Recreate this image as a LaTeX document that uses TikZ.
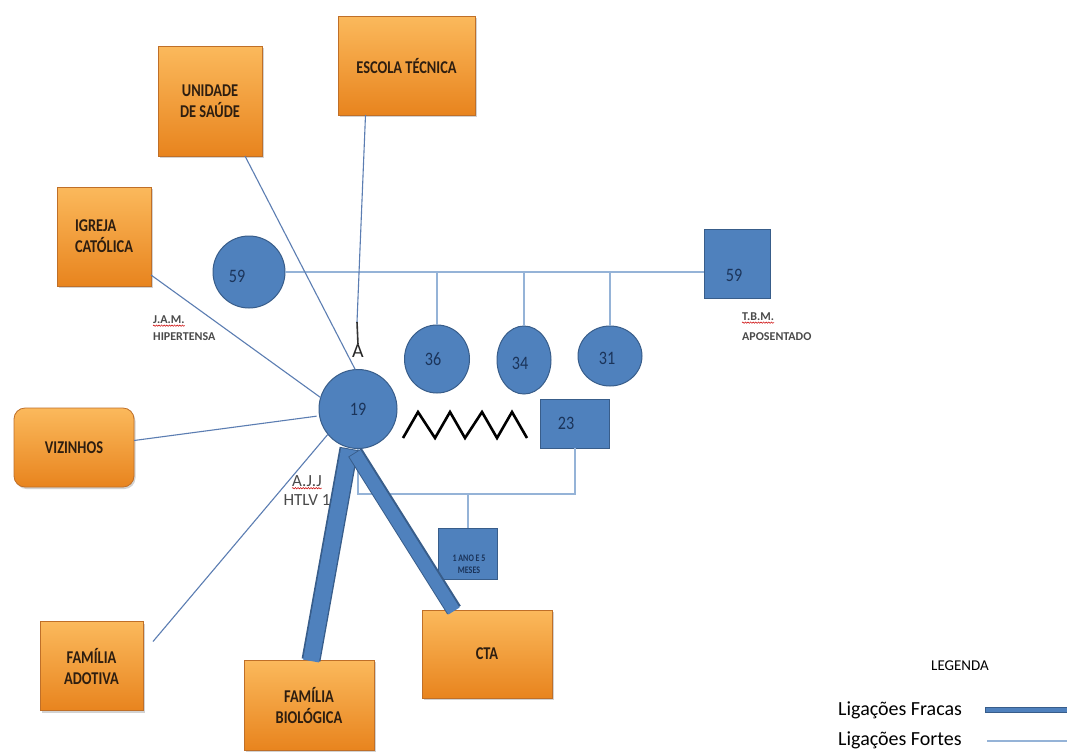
\documentclass[tikz,border=0pt]{standalone}
\usepackage{fontspec}
\setmainfont{Carlito}
\newfontfamily\condfont[FakeStretch=0.8]{Carlito}
\newfontfamily\numfont[FakeStretch=0.85]{Carlito}
\usetikzlibrary{shapes.geometric,shadows,decorations.pathmorphing}

\definecolor{nodeblue}{HTML}{4F81BD}
\definecolor{edgeblue}{HTML}{385D8A}
\definecolor{linkblue}{HTML}{5B7DB2}
\definecolor{paleblue}{HTML}{95B3D7}
\definecolor{orangetop}{HTML}{FBB95C}
\definecolor{orangebot}{HTML}{E8841E}
\definecolor{orangeedge}{HTML}{BF6F28}
\definecolor{inktext}{HTML}{2E1E10}
\definecolor{navytext}{HTML}{1B345A}
\definecolor{labelgrey}{HTML}{4A4A4A}

\begin{document}
\begin{tikzpicture}[
  x=1pt, y=-1pt,
  place/.style={rectangle, draw=orangeedge, line width=0.8pt,
    top color=orangetop, bottom color=orangebot,
    drop shadow={shadow xshift=1.5pt, shadow yshift=-2pt, opacity=0.35},
    font=\condfont\bfseries\fontsize{18}{21}\selectfont, text=inktext,
    align=center, inner sep=0pt, outer sep=0pt},
  person/.style={ellipse, fill=nodeblue, draw=edgeblue, line width=1pt,
    inner sep=0pt, outer sep=0pt},
  box/.style={rectangle, fill=nodeblue, draw=edgeblue, line width=1pt,
    inner sep=0pt, outer sep=0pt},
  num/.style={font=\numfont\fontsize{19}{21}\selectfont, text=navytext, inner sep=0pt},
  weak/.style={draw=linkblue, line width=1.1pt},
  kin/.style={draw=paleblue, line width=1.8pt},
  strongedge/.style={draw=edgeblue, line width=#1, line cap=butt},
  strongfill/.style={draw=nodeblue, line width=#1, line cap=butt},
  note/.style={font=\fontsize{12}{14}\selectfont\bfseries, text=labelgrey, inner sep=0pt, anchor=west},
  squiggle/.style={draw=red!80!black, line width=0.5pt, decorate,
    decoration={snake, amplitude=0.7pt, segment length=2.6pt}},
  zigzag/.style={draw=black, line width=2.6pt, line join=miter}
]
\useasboundingbox[fill=white] (0,0) rectangle (1067,753);

% community resources
\node[place, minimum width=137pt, minimum height=99pt] (escola) at (406.5,65.5) {ESCOLA TÉCNICA};
\node[place, minimum width=104pt, minimum height=110pt] (unidade) at (210,101) {UNIDADE\\DE SAÚDE};
\node[place, minimum width=94pt, minimum height=99pt, align=left] (igreja) at (104,236.5) {IGREJA\\CATÓLICA};
\node[place, minimum width=120pt, minimum height=79pt, rounded corners=11pt] (vizinhos) at (74,447.5) {VIZINHOS};
\node[place, minimum width=103pt, minimum height=89pt] (adotiva) at (91.5,666) {FAMÍLIA\\ADOTIVA};
\node[place, minimum width=130pt, minimum height=90pt] (biologica) at (309,705) {FAMÍLIA\\BIOLÓGICA};
\node[place, minimum width=130pt, minimum height=88pt] (cta) at (487,654) {CTA};

% family members
\node[person, minimum width=72pt, minimum height=72pt] (m59) at (249,272) {};
\node[num, xshift=-12pt, yshift=-4pt] (m59n) at (m59) {59};
\node[box, minimum width=66pt, minimum height=69pt] (f59) at (737,263.5) {};
\node[num, xshift=-3pt, yshift=-12pt] (f59n) at (f59) {59};
\node[person, minimum width=65pt, minimum height=68pt] (c36) at (437,359) {};
\node[num, xshift=-4pt] (c36n) at (c36) {36};
\node[person, minimum width=54pt, minimum height=68pt] (c34) at (524,360) {};
\node[num, xshift=-4pt, yshift=-3pt] (c34n) at (c34) {34};
\node[person, minimum width=64pt, minimum height=60pt] (c31) at (610,356) {};
\node[num, xshift=-3pt, yshift=-2pt] (c31n) at (c31) {31};
\node[box, minimum width=69pt, minimum height=49pt] (s23) at (575,423.5) {};
\node[num, xshift=-9pt] (s23n) at (s23) {23};
\node[box, minimum width=59pt, minimum height=51pt] (baby) at (468,553.5) {};
\node[font=\condfont\bfseries\fontsize{10}{12}\selectfont, text=navytext, align=center, inner sep=0pt] (babyn) at (469,564) {1 ANO E 5\\MESES};
\node[person, minimum width=78pt, minimum height=79pt] (c19) at (358,409) {};
\node[num] (c19n) at (c19) {19};

% parents' union and children
\draw[kin] (m59.east) -- (m59.east -| f59.west);
\draw[kin, line width=1.4pt] (c36.north |- m59.east) -- (c36.north);
\draw[kin, line width=1.4pt] (c34.north |- m59.east) -- (c34.north);
\draw[kin, line width=1.4pt] (c31.north |- m59.east) -- (c31.north);

% conflictual relationship
\draw[zigzag] (403,438) -- (418,412) -- (435,438) -- (450,412) -- (465,438)
  -- (482,412) -- (497,438) -- (512,412) -- (527,438);

% union with 23 and their child
\coordinate (bar) at (0,494);
\draw[kin, line width=1.4pt] (c19.south) -- (c19.south |- bar) -- (s23.south |- bar) -- (s23.south);
\draw[kin, line width=1.4pt] (baby.north |- bar) -- (baby.north);

% weak ties
\node[font=\fontsize{20}{22}\selectfont, text=black!85, inner sep=0pt] (amark) at (358,351) {A};
\coordinate (atop) at (357,322);
\draw[weak] ([xshift=-41pt]escola.south) -- (atop);
\draw[draw=black!80, line width=1.6pt] (atop) -- (amark.north);
\draw[weak] ([xshift=35pt]unidade.south) -- (c19.94);
\draw[weak] ([yshift=11pt]igreja.south east) -- (c19.163);
\draw[weak, shorten >=3pt] ([yshift=7pt]vizinhos.east) -- (c19.190);
\draw[weak] ([xshift=10pt, yshift=-20pt]adotiva.north east) -- (c19.220);

% strong ties
\draw[strongedge=19pt] ([xshift=2pt]biologica.north) -- ([xshift=-9pt]c19.south);
\draw[strongfill=16pt] ([xshift=2pt, yshift=-1pt]biologica.north) -- ([xshift=-9pt, yshift=-1pt]c19.south);
\draw[strongedge=16pt] ([xshift=-33pt]cta.north) -- ([xshift=-3pt, yshift=-4pt]c19.south);
\draw[strongfill=13pt] ([xshift=-33pt, yshift=-1pt]cta.north) -- ([xshift=-3pt, yshift=-5pt]c19.south);

% annotations
\node[note] (jam) at (153,320) {J.A.M.};
\node[note] (hip) at (153,337) {HIPERTENSA};
\draw[squiggle] ([yshift=-1.5pt]jam.south west) -- ([yshift=-1.5pt]jam.south east);
\node[note] (tbm) at (742,317) {T.B.M.};
\node[note] (apo) at (742,337) {APOSENTADO};
\draw[squiggle] ([yshift=-1.5pt]tbm.south west) -- ([yshift=-1.5pt]tbm.south east);
\node[font=\fontsize{17}{19}\selectfont, text=labelgrey, inner sep=0pt] (ajj) at (307,481) {A.J.J};
\node[font=\fontsize{17}{19}\selectfont, text=labelgrey, inner sep=0pt] (htlv) at (307,500) {HTLV 1};
\draw[squiggle] ([yshift=-1.5pt]ajj.south west) -- ([yshift=-1.5pt]ajj.south east);

% legend
\node[font=\fontsize{15}{17}\selectfont, inner sep=0pt] (legenda) at (960,666) {LEGENDA};
\node[font=\fontsize{20}{22}\selectfont, inner sep=0pt, anchor=west] (fracas) at (838,710) {Ligações Fracas};
\node[font=\fontsize{20}{22}\selectfont, inner sep=0pt, anchor=west] (fortes) at (838,740) {Ligações Fortes};
\coordinate (fracasend) at (1067,710);
\coordinate (fortesend) at (1067,741);
\draw[draw=edgeblue, line width=6.5pt] (fracasend -| 985,0) -- (fracasend);
\draw[draw=nodeblue, line width=4.5pt] (fracasend -| 986,0) -- (fracasend);
\draw[draw=paleblue, line width=2pt] (fortesend -| 987,0) -- (fortesend);
\end{tikzpicture}
\end{document}
